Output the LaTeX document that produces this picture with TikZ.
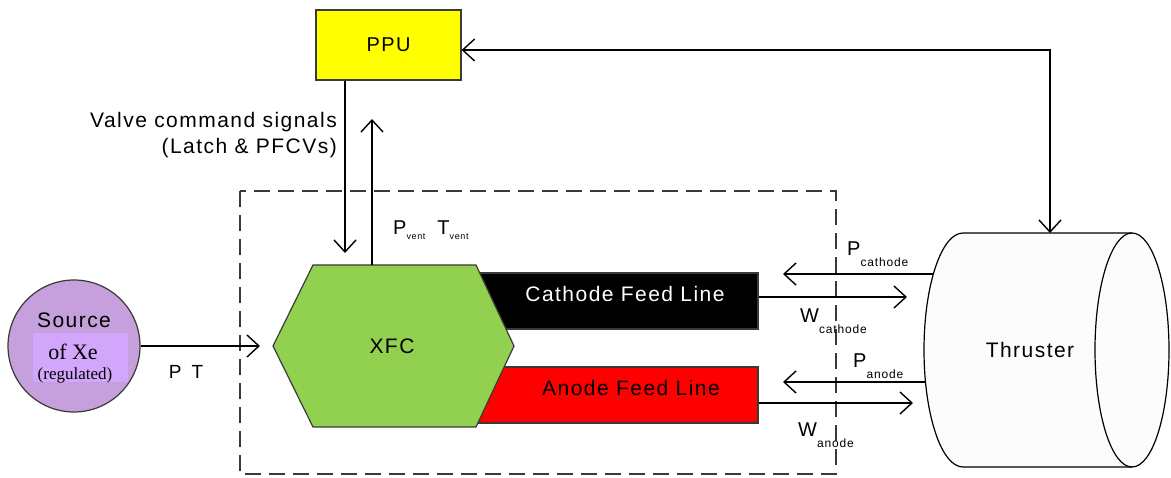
\documentclass[tikz,border=0pt]{standalone}
\usepackage{fontspec}
\setmainfont{Liberation Sans}[LetterSpace=7]
\newfontfamily\seriffont{Liberation Serif}
\usetikzlibrary{arrows.meta}
\definecolor{ppuyellow}{HTML}{FFFF00}
\definecolor{xfcgreen}{HTML}{92D050}
\definecolor{srcpurple}{HTML}{C5A0DC}
\definecolor{srcrect}{HTML}{D2A6FA}
\definecolor{feedred}{HTML}{FF0000}
\definecolor{thrfill}{HTML}{FCFCFC}
\definecolor{edge}{HTML}{3A3A3A}
\newcommand{\sublab}[3]{#1\raisebox{#3}{\fontsize{12}{12}\selectfont #2}}
\begin{document}
\begin{tikzpicture}[x=1pt,y=-1pt,
  line/.style={line width=1.4pt, draw=black},
  arr/.style={line, -{Straight Barb[length=12pt,width=22pt,line width=1.4pt]}},
  darr/.style={line, {Straight Barb[length=12pt,width=22pt,line width=1.4pt]}-{Straight Barb[length=12pt,width=22pt,line width=1.4pt]}},
  lbl/.style={font=\fontsize{21}{25}\selectfont, inner sep=0pt},
  sublbl/.style={font=\fontsize{20}{24}\selectfont, inner sep=0pt, anchor=base west},
  feed/.style={draw=edge, line width=1.2pt, minimum width=288pt, minimum height=56pt, inner sep=0pt},
  boundary/.style={line width=1.5pt, draw=edge, dash pattern=on 16pt off 8pt}
]
\useasboundingbox (0,0) rectangle (1171,478);

% dashed XFC boundary
\draw[boundary] (240,191) rectangle (836,474);

% PPU
\node[draw=edge, line width=1.2pt, fill=ppuyellow, minimum width=145pt, minimum height=70pt,
      font=\fontsize{20}{24}\selectfont] (ppu) at (388.5,45) {PPU};

% Source
\node[circle, draw=edge, line width=1.2pt, fill=srcpurple, minimum size=132pt] (src) at (74,346) {};
\fill[srcrect] (33,333) rectangle (128,382);
\node[font=\fontsize{21}{25}\selectfont, inner sep=0pt] (srcA) at (74,320) {Source};
\node[font=\seriffont\fontsize{22}{26}\selectfont, inner sep=0pt] (srcB) at (73,352) {of Xe};
\node[font=\seriffont\fontsize{17}{20}\selectfont, inner sep=0pt] (srcC) at (75,375) {(regulated)};

% feed lines
\node[feed, fill=black] (cath) at (614,301) {};
\node[feed, fill=feedred] (anode) at (614,395) {};
\node[lbl, text=white] (cathT) at (625,294) {Cathode Feed Line};
\node[lbl, text=black] (anodeT) at (631,388) {Anode Feed Line};

% XFC hexagon
\draw[draw=edge, line width=1.2pt, fill=xfcgreen]
  (273,346) -- (313,265) -- (476,265) -- (514,346) -- (476,427) -- (313,427) -- cycle;
\node[lbl] (xfc) at (392,346) {XFC};
\coordinate (xfcW) at (260,346);
\coordinate (xfcTopA) at (345,253);
\coordinate (xfcTopB) at (372,265);
\coordinate (ventTip) at (372,119);

% Thruster
\fill[thrfill] (963,233) -- (1132,233) arc[start angle=-90,end angle=90,x radius=37,y radius=117]
  -- (963,467) arc[start angle=90,end angle=270,x radius=39,y radius=117] -- cycle;
\draw[line width=1.2pt] (1132,233) -- (963,233) arc[start angle=270,end angle=90,x radius=39,y radius=117] -- (1132,467);
\draw[line width=1.2pt] (1132,350) ellipse[x radius=37, y radius=117];
\node[lbl] (thr) at (1030,350) {Thruster};
\coordinate (thrTop) at (1050,233);
\coordinate (pCs) at (933,274);
\coordinate (pCe) at (783,274);
\coordinate (wCe) at (907,297);
\coordinate (pAs) at (925,382);
\coordinate (pAe) at (783,382);
\coordinate (wAe) at (913,403);

% connectors
\draw[darr] ([yshift=-5pt]ppu.east) -| (thrTop);
\draw[arr] (ppu.south -| xfcTopA) -- (xfcTopA);
\draw[arr] (xfcTopB) -- (ventTip);
\draw[arr] (src.east) -- (xfcW);
\draw[arr] (pCs) -- (pCe);
\draw[arr] (cath.east |- wCe) -- (wCe);
\draw[arr] (pAs) -- (pAe);
\draw[arr] (anode.east |- wAe) -- (wAe);

% labels
\node[lbl, align=right, anchor=east, font=\fontsize{21}{26}\selectfont] (valve) at (337,135)
  {Valve command signals\\(Latch \& PFCVs)};
\node[font=\fontsize{19}{22}\selectfont, inner sep=0pt] (pt) at (186,372) {P\hspace{10pt}T};
\node[sublbl] (pvent) at (393,235)
  {P\raisebox{-5pt}{\fontsize{9}{9}\selectfont vent}\hspace{12pt}T\raisebox{-5pt}{\fontsize{9}{9}\selectfont vent}};
\node[sublbl] (pcl) at (847,256) {\sublab{P}{cathode}{-11pt}};
\node[sublbl] (wcl) at (800,323) {\sublab{W}{cathode}{-11pt}};
\node[sublbl] (pal) at (853,368) {\sublab{P}{anode}{-11pt}};
\node[sublbl] (wal) at (798,436) {\sublab{W}{anode}{-11pt}};
\end{tikzpicture}
\end{document}
